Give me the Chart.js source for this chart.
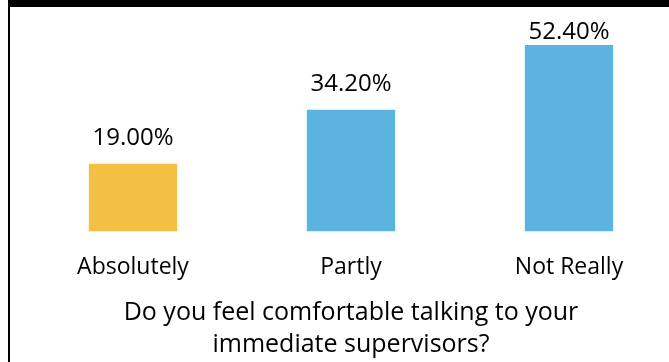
<!DOCTYPE html>
<html lang="en">
<head>
    <meta charset="UTF-8">
    <title>Comfort talking to supervisors</title>
    <script src="https://cdn.jsdelivr.net/npm/chart.js"></script>
    <style>
        body {
            margin: 0;
            padding: 0;
            background-color: #ffffff;
            width: 669px;
            height: 362px;
            overflow: hidden;
            position: relative;
        }

        .top-band {
            position: absolute;
            left: 8px;
            top: 0;
            width: 661px;
            height: 7px;
            background-color: #000;
            z-index: 2;
        }

        .left-border {
            position: absolute;
            left: 8px;
            top: 0;
            width: 2px;
            height: 362px;
            background-color: #000;
            z-index: 2;
        }

        .chart-box {
            position: absolute;
            left: 0;
            top: 0;
            width: 700px;
            height: 362px;
        }
    </style>
</head>
<body>
    <div class="top-band"></div>
    <div class="left-border"></div>
    <div class="chart-box">
        <canvas id="barChart"></canvas>
    </div>

    <script>
        const categories = ['Absolutely', 'Partly', 'Not Really'];
        const shares = [19.0, 34.2, 52.4];
        const barColors = ['#F3C043', '#5BB3DF', '#5BB3DF'];
        const axisTitle = ['Do you feel comfortable talking to your', 'immediate supervisors?'];

        const FONT = '"Open Sans", sans-serif';

        // percentage labels above each bar, kept inside the plot area like Excel does
        const valueLabels = {
            id: 'valueLabels',
            afterDatasetsDraw(chart) {
                const ctx = chart.ctx;
                const meta = chart.getDatasetMeta(0);
                ctx.save();
                ctx.font = '24px ' + FONT;
                ctx.fillStyle = '#000';
                ctx.textAlign = 'center';
                ctx.textBaseline = 'alphabetic';
                meta.data.forEach(function (bar, i) {
                    const y = Math.max(bar.y - 19, chart.chartArea.top + 20.5);
                    ctx.fillText(shares[i].toFixed(2) + '%', bar.x, y);
                });
                ctx.restore();
            }
        };

        new Chart(document.getElementById('barChart'), {
            type: 'bar',
            data: {
                labels: categories,
                datasets: [{
                    data: shares,
                    backgroundColor: barColors,
                    borderWidth: 0,
                    barPercentage: 0.81,
                    categoryPercentage: 0.5
                }]
            },
            options: {
                responsive: true,
                maintainAspectRatio: false,
                animation: false,
                layout: {
                    padding: { left: 24, right: 22, top: 18, bottom: 0 }
                },
                plugins: {
                    legend: { display: false },
                    tooltip: { enabled: false }
                },
                scales: {
                    x: {
                        grid: { display: false },
                        border: { display: false },
                        ticks: {
                            color: '#000',
                            font: { family: FONT, size: 23, lineHeight: 1.0 },
                            padding: 17
                        },
                        title: {
                            display: true,
                            text: axisTitle,
                            color: '#000',
                            font: { family: FONT, size: 25, lineHeight: 1.28 },
                            padding: { top: 0.6, bottom: 1 }
                        }
                    },
                    y: {
                        display: false,
                        min: 0,
                        max: 60
                    }
                }
            },
            plugins: [valueLabels]
        });
    </script>
</body>
</html>
